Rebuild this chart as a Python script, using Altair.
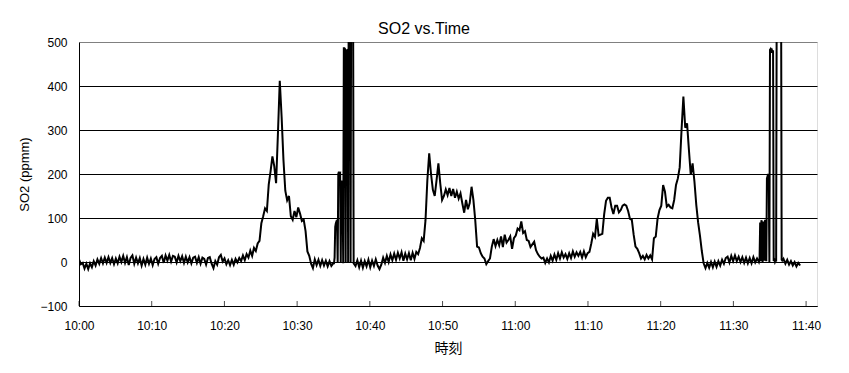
import altair as alt
import pandas as pd

# ---- data ----
# regular samples (every BASE_STEP_S seconds) and fast bursts (every FAST_STEP_S seconds)
BASE_STEP_S = 15.2
FAST_STEP_S = 5.07

# segment start times, minutes after 10:00
SEG_A_START = 0.0
SEG_SPIKE1_START = 35.07
SEG_B_START = 38.03
SEG_SPIKE2_START = 93.43
SEG_C_START = 96.90

so2_a = [
    6, -5, -2, -15, -4, -16, -3, -12, 2, -8, 6, -4, 9, -3, 10, -2,
    11, -2, 9, -5, 8, -3, 12, 0, 14, -2, 11, -7, 9, 15, -4, 10,
    -3, 9, -8, 7, -6, 10, -4, 8, -7, 7, 11, -4, 9, 14, -2, 15,
    3, 16, 1, 14, 12, -1, 14, 2, 13, -2, 12, -1, 11, -3, 10, 12,
    -2, 11, -4, 10, 7, -6, 9, 11, -4, -14, 2, -6, 11, 16, 1, 8,
    -5, 4, -7, 5, -6, 7, -1, 9, 2, 15, 4, 18, 10, 26, 14, 32,
    25, 42, 48, 88, 104, 122, 116, 176, 206, 240, 218, 179, 292, 412, 330, 232,
    162, 140, 150, 104, 96, 116, 102, 124, 110, 93, 96, 70, 24, 14, -4, -14,
    6, -7, 5, -9, 4, -8, 3, -10, 2, -9, -3,
]

so2_spike1 = [
    -3, 10, 80, 88, 92, 90, -2, 200, 205, 198, 200, 0, 185, 178, 175, -3,
    486, 486, 484, 0, 480, 481, 478, -2, 650, 650, 650, 0, 650, 650, 650, 650,
    -3, -5,
]

so2_b = [
    -9, 4,
    -12, 3, -13, 2, -10, 5, -12, 3, -9, 6, -8, -16, -6, 10, -2, 14,
    0, 17, 4, 19, 5, 21, 8, 22, 3, 19, 6, 20, 4, 21, 7, 23,
    18, 32, 54, 48, 95, 186, 247, 200, 164, 150, 186, 224, 179, 141, 150, 165,
    152, 168, 150, 166, 146, 160, 144, 156, 133, 112, 141, 120, 134, 171, 141, 95,
    35, 33, 20, 12, 8, -5, 2, 8, 35, 52, 36, 50, 38, 58, 34, 62,
    44, 50, 58, 30, 54, 60, 76, 72, 92, 66, 70, 50, 48, 34, 40, 46,
    27, 18, 12, 8, 10, -2, 8, -1, 14, 3, 17, 5, 20, 8, 22, 10,
    18, 7, 20, 9, 24, 12, 22, 14, 23, 10, 24, 11, 20, 23, 42, 64,
    57, 98, 60, 62, 64, 109, 139, 146, 146, 124, 109, 128, 128, 113, 118, 128,
    131, 128, 116, 98, 96, 62, 35, 30, 20, 8, 14, 6, 16, 8, 15, 6,
    54, 58, 99, 118, 128, 175, 160, 126, 130, 124, 122, 141, 175, 190, 215, 300,
    376, 305, 315, 255, 198, 224, 183, 130, 90, 60, 25, -3, -14, -2, -13, 0,
    -12, 1, -11, 2, -8, 5, -4, 9, 12, -1, 14, 2, 15, 2, 12, 0,
    11, -2, 10, -3, 9, -3, 11, -1, 8,
]

so2_spike2 = [
    3, 0, 5, 90, 2, 95, 88, 0, 92, 85, 3, 96, 90, 2, 190, 195,
    200, 192, 0, 482, 484, 480, 482, 478, 481, 2, 5, 0, 4, 1, 650, 650,
    650, 650, 650, 650, 650, 650, 5, 3, 4,
]

so2_c = [7, -4, 5, -6, 2, -8, 0, -10, -2, -8]

tick_labels = ["10:00", "10:10", "10:20", "10:30", "10:40", "10:50",
               "11:00", "11:10", "11:20", "11:30", "11:40"]
y_ticks = [-100, 0, 100, 200, 300, 400, 500]
X_MAX_MIN = 101.5  # axis runs a little past 11:40

# ---- build table ----
rows = []
order = 0
for start, step, vals in [
    (SEG_A_START, BASE_STEP_S, so2_a),
    (SEG_SPIKE1_START, FAST_STEP_S, so2_spike1),
    (SEG_B_START, BASE_STEP_S, so2_b),
    (SEG_SPIKE2_START, FAST_STEP_S, so2_spike2),
    (SEG_C_START, BASE_STEP_S, so2_c),
]:
    for i, v in enumerate(vals):
        rows.append({"minute": start + i * step / 60.0, "so2": v, "order": order})
        order += 1
df = pd.DataFrame(rows)

tick_min = [int(s.split(":")[0]) * 60 + int(s.split(":")[1]) - 600 for s in tick_labels]
ticks_df = pd.DataFrame({"minute": tick_min})

label_expr = ("floor(10 + datum.value / 60) + ':' + "
              "(datum.value % 60 < 10 ? '0' : '') + (datum.value % 60)")

FONT = "Liberation Sans"

x_scale = alt.Scale(domain=[0, X_MAX_MIN], nice=False, zero=False)
y_scale = alt.Scale(domain=[-100, 500], nice=False, zero=False)

line = alt.Chart(df).mark_line(color="black", strokeWidth=2, clip=True).encode(
    x=alt.X("minute:Q", scale=x_scale,
            axis=alt.Axis(values=tick_min, labelExpr=label_expr, ticks=False,
                          grid=False, labelPadding=14, labelFontSize=12,
                          labelFlush=False, labelOverlap=False,
                          labelFont=FONT, labelColor="black",
                          domainColor="black", title="時刻",
                          titleFont="Noto Sans CJK JP", titleFontSize=14,
                          titleFontWeight="normal", titleColor="black",
                          titlePadding=10)),
    y=alt.Y("so2:Q", scale=y_scale,
            axis=alt.Axis(values=y_ticks, ticks=False, grid=True,
                          gridColor={"condition": {"test": "datum.value >= 500", "value": "#808080"},
                                     "value": "black"},
                          gridWidth=1, labelPadding=12, labelFontSize=12,
                          labelFlush=False,
                          labelFont=FONT, labelColor="black", domainColor="black",
                          title="SO2 (ppmm)", titleFont=FONT, titleFontSize=13,
                          titleFontWeight="normal", titleColor="black",
                          titlePadding=8)),
    order="order:Q",
)

xticks = alt.Chart(ticks_df).mark_tick(color="black", size=5, thickness=1,
                                       orient="vertical").encode(
    x=alt.X("minute:Q", scale=x_scale),
    y=alt.value(261.5),
)

chart = alt.layer(line, xticks).properties(
    width=738,
    height=264,
    title=alt.TitleParams("SO2 vs.Time", font=FONT, fontSize=16,
                          fontWeight="normal", color="black",
                          anchor="middle", dx=-24, dy=9, offset=8),
    autosize=alt.AutoSizeParams(type="none"),
    padding={"left": 71, "top": 34, "right": 24, "bottom": 59},
).configure_view(stroke="#808080", strokeWidth=1).configure(background="white")

chart.save("out.html", embed_options={"renderer": "svg", "actions": False})
